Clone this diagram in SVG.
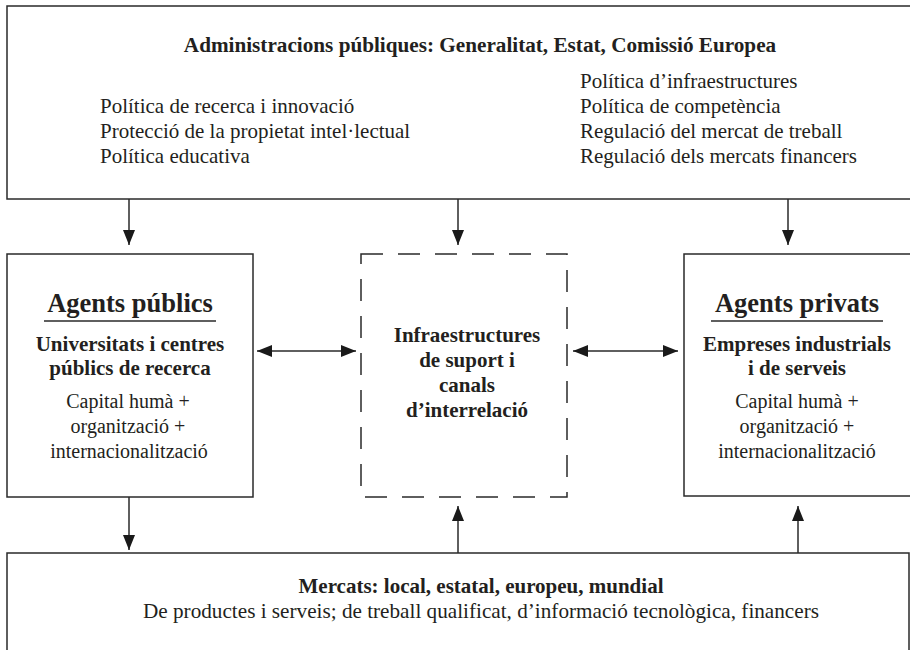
<svg xmlns="http://www.w3.org/2000/svg" width="910" height="650" viewBox="0 0 910 650">
<style>
.box{fill:#fff;stroke:#2a2a2a;stroke-width:1.5}
.dash{fill:none;stroke:#2a2a2a;stroke-width:1.5;stroke-dasharray:22 15}
.ln{stroke:#2a2a2a;stroke-width:1.5;fill:none}
text{font-family:"Liberation Serif","Times New Roman",serif;fill:#231f20}
.b{font-weight:bold}
.t{font-size:20px}
.h{font-size:26.5px;font-weight:bold}
.s{font-size:21px}
.w{font-size:21.2px}
.c{text-anchor:middle}
</style>
<defs>
<marker id="ah" markerUnits="userSpaceOnUse" markerWidth="15" markerHeight="12" refX="15" refY="6" orient="auto-start-reverse">
<path d="M0,0 L15,6 L0,12 z" fill="#1a1a1a"/>
</marker>
</defs>
<rect width="910" height="650" fill="#fff"/>
<g id="admin">
<rect class="box" x="7" y="6" width="906" height="193"/>
<text class="b w c" x="480" y="52">Administracions públiques: Generalitat, Estat, Comissió Europea</text>
<text class="s" x="100" y="113">Política de recerca i innovació</text>
<text class="s" x="100" y="138">Protecció de la propietat intel·lectual</text>
<text class="s" x="100" y="163">Política educativa</text>
<text class="s" x="580" y="88">Política d’infraestructures</text>
<text class="s" x="580" y="113">Política de competència</text>
<text class="s" x="580" y="138">Regulació del mercat de treball</text>
<text class="s" x="580" y="163">Regulació dels mercats financers</text>
</g>
<g id="publics">
<rect class="box" x="7" y="254" width="246" height="243"/>
<text class="h c" x="130" y="312">Agents públics</text>
<line class="ln" x1="44" y1="321" x2="216" y2="321"/>
<text class="b s c" x="130" y="351">Universitats i centres</text>
<text class="b s c" x="130" y="375">públics de recerca</text>
<text class="t c" x="128" y="408">Capital humà +</text>
<text class="t c" x="128" y="433">organització +</text>
<text class="t c" x="129" y="458">internacionalització</text>
</g>
<g id="infra">
<rect class="dash" x="361" y="254" width="206" height="243"/>
<text class="b s c" x="467" y="342">Infraestructures</text>
<text class="b s c" x="467" y="367">de suport i</text>
<text class="b s c" x="467" y="392">canals</text>
<text class="b s c" x="467" y="417">d’interrelació</text>
</g>
<g id="privats">
<rect class="box" x="684" y="254" width="230" height="242"/>
<text class="h c" x="797" y="312">Agents privats</text>
<line class="ln" x1="711" y1="321" x2="883" y2="321"/>
<text class="b s c" x="797" y="351">Empreses industrials</text>
<text class="b s c" x="797" y="375">i de serveis</text>
<text class="t c" x="797" y="408">Capital humà +</text>
<text class="t c" x="797" y="433">organització +</text>
<text class="t c" x="797" y="458">internacionalització</text>
</g>
<g id="mercats">
<rect class="box" x="7" y="553" width="902" height="110"/>
<text class="b s c" x="481" y="593">Mercats: local, estatal, europeu, mundial</text>
<text class="w c" x="481" y="618">De productes i serveis; de treball qualificat, d’informació tecnològica, financers</text>
</g>
<g id="connectors">
<line class="ln" x1="129" y1="199" x2="129" y2="245" marker-end="url(#ah)"/>
<line class="ln" x1="458" y1="199" x2="458" y2="245" marker-end="url(#ah)"/>
<line class="ln" x1="788" y1="199" x2="788" y2="245" marker-end="url(#ah)"/>
<line class="ln" x1="257" y1="351" x2="356" y2="351" marker-start="url(#ah)" marker-end="url(#ah)"/>
<line class="ln" x1="573" y1="351" x2="678" y2="351" marker-start="url(#ah)" marker-end="url(#ah)"/>
<line class="ln" x1="129" y1="497" x2="129" y2="550" marker-end="url(#ah)"/>
<line class="ln" x1="458" y1="553" x2="458" y2="506" marker-end="url(#ah)"/>
<line class="ln" x1="798" y1="553" x2="798" y2="506" marker-end="url(#ah)"/>
</g>
</svg>
